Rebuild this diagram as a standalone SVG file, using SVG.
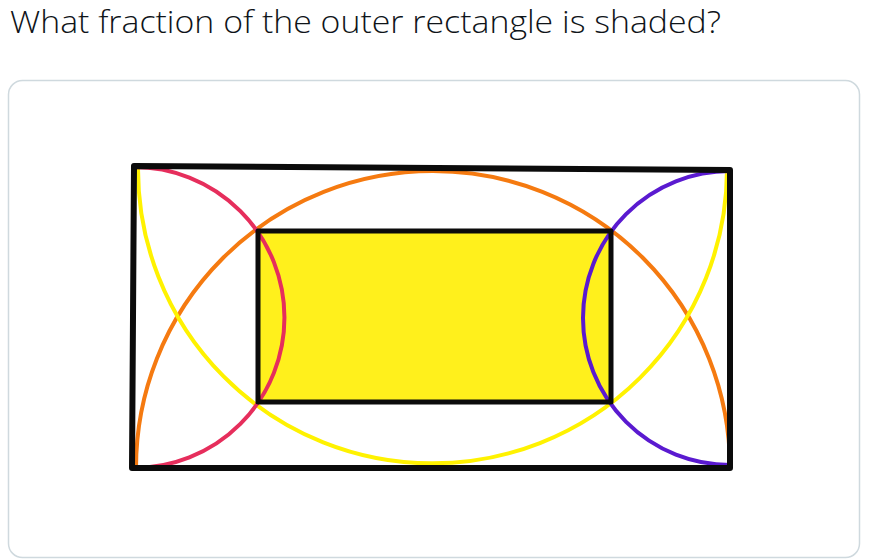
<svg xmlns="http://www.w3.org/2000/svg" width="874" height="560" viewBox="0 0 874 560">
  <style>
    .title { font-family: "Open Sans", "Noto Sans", "Liberation Sans", sans-serif; font-size: 31px; font-weight: 300; fill: #0f1419; }
    .card { fill: #ffffff; stroke: #cfd9de; stroke-width: 1.5; }
    .arc { fill: none; stroke-width: 4; stroke-linecap: round; }
    .edge { fill: none; stroke: #0b0b0b; stroke-linejoin: round; stroke-linecap: round; }
  </style>
  <rect width="874" height="560" fill="#ffffff"/>
  <text class="title" x="10" y="33" textLength="711" lengthAdjust="spacingAndGlyphs">What fraction of the outer rectangle is shaded?</text>
  <rect class="card" x="8.5" y="80.5" width="851" height="477" rx="14"/>

  <g id="shaded">
    <rect x="258" y="231" width="353" height="171" fill="#fff01c"/>
  </g>

  <g id="connectors">
    <path id="arc-orange" class="arc" stroke="#f57a10" d="M136,468 A296,296 0 0 1 730,468"/>
    <path id="arc-yellow" class="arc" stroke="#fff200" d="M138,168 A294,294 0 0 0 727,170"/>
    <path id="arc-red" class="arc" stroke="#e62e5c" d="M134,167 A150,150 0 0 1 134,468"/>
    <path id="arc-purple" class="arc" stroke="#5a1ad0" d="M730,171 A146,146 0 0 0 730,465"/>
  </g>

  <g id="outer-rect">
    <path class="edge" stroke-width="6" d="M134,166 L730,170 L730,468 L132,468 Z"/>
  </g>
  <g id="inner-rect">
    <rect class="edge" stroke-width="5" x="258" y="231" width="353" height="171"/>
  </g>
</svg>
